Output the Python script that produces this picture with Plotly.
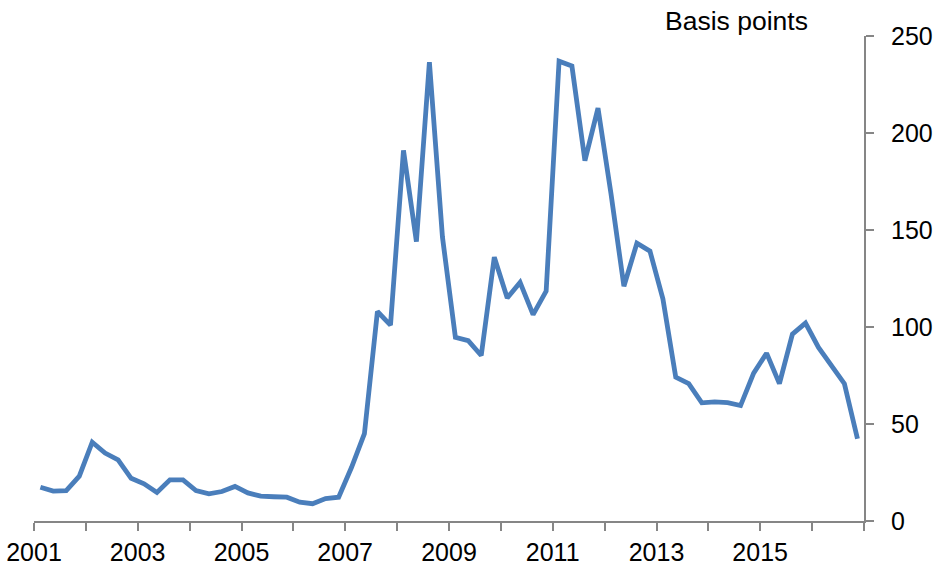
import pandas as pd
import plotly.graph_objects as go

# Quarterly observations, 2001 Q1 .. 2016 Q4
quarter_start = pd.date_range(start="2001-01-01", periods=64, freq="QS")
spread_bp = [
    17.4, 15.4, 15.7, 23.1, 40.6, 35.0, 31.5, 22.0,
    19.2, 14.7, 21.2, 21.2, 15.7, 14.0, 15.2, 17.8,
    14.5, 12.8, 12.5, 12.3, 9.7, 8.9, 11.6, 12.3,
    27.7, 45.0, 108.0, 101.0, 191.0, 144.0, 236.5, 146.3,
    94.7, 93.0, 85.3, 136.0, 115.0, 123.0, 106.4, 118.5,
    237.0, 234.5, 185.8, 212.8, 168.7, 121.0, 143.2, 139.1,
    114.5, 74.1, 70.8, 60.9, 61.4, 61.0, 59.5, 76.2,
    86.5, 70.8, 96.3, 102.0, 89.5, 80.0, 70.8, 42.4,
]
tick_years = list(range(2001, 2018))
tick_labels = [str(y) if (y % 2 == 1 and y < 2017) else "" for y in tick_years]
y_ticks = [0, 50, 100, 150, 200, 250]

AXIS_COLOR = "#868686"
FONT = dict(family="Liberation Sans, Arial, sans-serif", size=25, color="black")

fig = go.Figure()
fig.add_trace(go.Scatter(
    x=quarter_start,
    y=spread_bp,
    mode="lines",
    line=dict(color="#4A7EBB", width=4.8),
    xperiod="M3",
    xperiodalignment="middle",
    showlegend=False,
))

fig.update_layout(
    width=936,
    height=569,
    margin=dict(l=34, r=72, t=36, b=48, autoexpand=False),
    paper_bgcolor="white",
    plot_bgcolor="white",
    font=FONT,
    xaxis=dict(
        type="date",
        range=["2001-01-01", "2017-01-01"],
        tickmode="array",
        tickvals=[f"{y}-01-01" for y in tick_years],
        ticktext=tick_labels,
        ticks="outside",
        ticklen=8,
        tickwidth=2,
        tickcolor=AXIS_COLOR,
        showline=True,
        linecolor=AXIS_COLOR,
        linewidth=2,
        showgrid=False,
        zeroline=False,
        tickfont=FONT,
        ticklabelstandoff=0,
        automargin=False,
    ),
    yaxis=dict(
        side="right",
        range=[0, 250],
        tickmode="array",
        tickvals=y_ticks,
        ticks="outside",
        ticklen=8,
        tickwidth=2,
        tickcolor=AXIS_COLOR,
        showline=True,
        linecolor=AXIS_COLOR,
        linewidth=2,
        showgrid=False,
        zeroline=False,
        tickfont=FONT,
        ticklabelstandoff=12,
        automargin=False,
    ),
    annotations=[dict(
        text="Basis points",
        xref="paper", yref="paper",
        x=0.9345, y=1.03,
        xanchor="right", yanchor="middle",
        showarrow=False,
        font=dict(family="Liberation Sans, Arial, sans-serif", size=26.5, color="black"),
    )],
)

fig.write_html(
    "out.html",
    config={"displayModeBar": False},
    post_script="document.body.style.margin='0';document.body.style.overflow='hidden';",
)
